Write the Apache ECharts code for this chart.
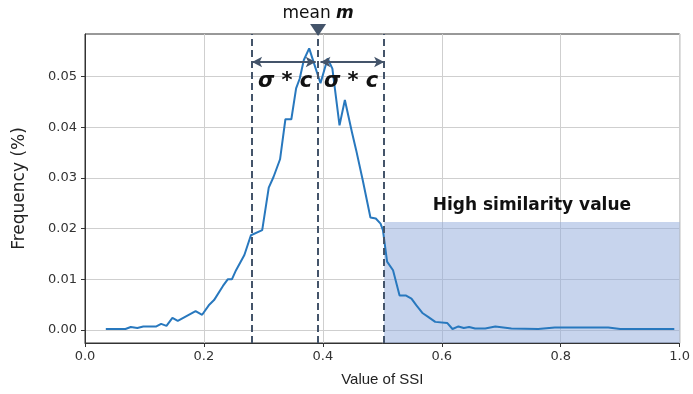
<!DOCTYPE html>
<html>
<head>
<meta charset="utf-8">
<script src="https://cdn.jsdelivr.net/npm/echarts@6/dist/echarts.min.js"></script>
<style>
  html, body { margin: 0; padding: 0; background: #fff; }
  #chart { width: 693px; height: 394px; }
</style>
</head>
<body>
<div id="chart"></div>
<script>
// SSI values (x) and frequency (y)
const ssiValues = [0.035, 0.068, 0.077, 0.088, 0.098, 0.12, 0.128, 0.137, 0.147, 0.156,
  0.186, 0.197, 0.209, 0.217, 0.232, 0.24, 0.247, 0.254, 0.268, 0.279,
  0.298, 0.309, 0.317, 0.328, 0.337, 0.347, 0.355, 0.361, 0.368, 0.377,
  0.388, 0.396, 0.408, 0.416, 0.428, 0.437, 0.449, 0.456, 0.467, 0.48,
  0.489, 0.497, 0.501, 0.508, 0.518, 0.529, 0.54, 0.549, 0.557, 0.568,
  0.577, 0.589, 0.609, 0.618, 0.628, 0.637, 0.646, 0.656, 0.673, 0.69,
  0.717, 0.762, 0.79, 0.88, 0.9, 0.991]
const frequency = [0.0002, 0.0002, 0.0006, 0.0004, 0.0007, 0.0007, 0.0012, 0.0008, 0.0024, 0.0018,
  0.0037, 0.003, 0.005, 0.0059, 0.0087, 0.01, 0.01, 0.0118, 0.0148, 0.0187,
  0.0197, 0.0281, 0.0302, 0.0337, 0.0416, 0.0416, 0.0477, 0.0496, 0.0533, 0.0556,
  0.0516, 0.0487, 0.0536, 0.0516, 0.0404, 0.0454, 0.039, 0.0355, 0.0296, 0.0222,
  0.022, 0.021, 0.0197, 0.0135, 0.0118, 0.0068, 0.0068, 0.0062, 0.0049, 0.0033,
  0.0026, 0.0016, 0.0014, 0.0002, 0.0007, 0.0004, 0.0006, 0.0003, 0.0003, 0.0007,
  0.0003, 0.0002, 0.0005, 0.0005, 0.0002, 0.0002]
const xTicks = [0, 0.2, 0.4, 0.6, 0.8, 1.0]
const yTicks = [0, 0.01, 0.02, 0.03, 0.04, 0.05]

// annotation values
const meanM = 0.392
const sigmaC = 0.111
const highLevel = 0.0213
const arrowY = 0.0529
const yMin = -0.00257
const yMax = 0.05843

const dark = '#44546a'
const tickFont = 'DejaVu Sans'

const chart = echarts.init(document.getElementById('chart'))

const points = ssiValues.map((x, i) => [x, frequency[i]])

const sigmaLabel = {
  show: true, position: 'inside', formatter: 'σ * c',
  fontFamily: 'DejaVu Sans', fontStyle: 'italic', fontWeight: 'bold', fontSize: 21, color: '#111'
}

chart.setOption({
  backgroundColor: '#fff',
  animation: false,
  grid: {
    left: 85, right: 10, top: 34, bottom: 51,
    show: true, borderColor: '#333', borderWidth: 1
  },
  xAxis: {
    type: 'value',
    min: 0, max: 1, interval: 0.2,
    name: 'Value of SSI',
    nameLocation: 'middle',
    nameGap: 29,
    nameTextStyle: { fontFamily: 'Liberation Sans Narrow, Liberation Sans', fontSize: 15, color: '#222' },
    axisLine: { show: true, onZero: false, lineStyle: { color: '#333' } },
    axisTick: { show: true, length: 4, lineStyle: { color: '#333' } },
    axisLabel: {
      fontFamily: tickFont, fontSize: 13, color: '#333', margin: 7,
      formatter: (v) => v.toFixed(1)
    },
    splitLine: { show: true, lineStyle: { color: '#cfcfcf', width: 1 } }
  },
  yAxis: {
    type: 'value',
    min: yMin, max: yMax,
    name: 'Frequency (%)',
    nameLocation: 'middle',
    nameGap: 57,
    nameTextStyle: { fontFamily: 'DejaVu Sans', fontSize: 17, color: '#222' },
    axisLine: { show: true, lineStyle: { color: '#333' } },
    axisTick: { show: true, length: 4, customValues: yTicks, lineStyle: { color: '#333' } },
    axisLabel: {
      fontFamily: tickFont, fontSize: 13, color: '#333', margin: 8,
      customValues: yTicks,
      formatter: (v) => v.toFixed(2)
    },
    splitLine: { show: true, lineStyle: { color: '#cfcfcf', width: 1 } }
  },
  series: [
    {
      type: 'line',
      data: points,
      showSymbol: false,
      lineStyle: { color: '#2878be', width: 2 },
      itemStyle: { color: '#2878be' },
      z: 3,
      markArea: {
        silent: true,
        itemStyle: { color: 'rgba(143,170,220,0.5)' },
        label: {
          show: true, position: 'top', distance: 8,
          formatter: 'High similarity value',
          fontFamily: 'DejaVu Sans', fontWeight: 'bold', fontSize: 17, color: '#111'
        },
        data: [[{ xAxis: meanM + sigmaC, yAxis: yMin }, { xAxis: 1, yAxis: highLevel }]]
      },
      markLine: {
        silent: true,
        symbol: 'none',
        label: { show: false },
        lineStyle: { color: dark, width: 2, type: [7, 4] },
        data: [
          [{ coord: [meanM - sigmaC, yMin] }, { coord: [meanM - sigmaC, yMax] }],
          [{ coord: [meanM, yMin] }, { coord: [meanM, yMax] }],
          [{ coord: [meanM + sigmaC, yMin] }, { coord: [meanM + sigmaC, yMax] }],
          [{ coord: [meanM - sigmaC, arrowY], symbol: 'arrow', symbolSize: [8, 10], lineStyle: { type: 'solid' } },
           { coord: [meanM - 0.004, arrowY], symbol: 'arrow', symbolSize: [8, 10] }],
          [{ coord: [meanM + 0.004, arrowY], symbol: 'arrow', symbolSize: [8, 10], lineStyle: { type: 'solid' } },
           { coord: [meanM + sigmaC, arrowY], symbol: 'arrow', symbolSize: [8, 10] }]
        ]
      },
      markPoint: {
        silent: true,
        data: [
          { coord: [meanM - sigmaC / 2, 0.049], symbol: 'circle', symbolSize: 0, label: sigmaLabel },
          { coord: [meanM + sigmaC / 2, 0.049], symbol: 'circle', symbolSize: 0, label: sigmaLabel }
        ]
      }
    }
  ]
})

// "mean m" marker sits above the plot frame
const meanTop = chart.convertToPixel({ gridIndex: 0 }, [meanM, yMax])
chart.setOption({
  graphic: [
    {
      type: 'polygon',
      silent: true,
      shape: { points: [[meanTop[0] - 8, meanTop[1] - 10], [meanTop[0] + 8, meanTop[1] - 10], [meanTop[0], meanTop[1] + 2]] },
      style: { fill: dark },
      z: 10
    },
    {
      type: 'text',
      silent: true,
      x: meanTop[0],
      y: meanTop[1] - 20,
      style: {
        text: 'mean {m|m}',
        fontFamily: 'DejaVu Sans', fontSize: 17, fill: '#111',
        align: 'center', verticalAlign: 'middle',
        rich: { m: { fontFamily: 'DejaVu Sans', fontStyle: 'italic', fontWeight: 'bold', fontSize: 17, fill: '#111' } }
      },
      z: 10
    }
  ]
})
</script>
</body>
</html>
